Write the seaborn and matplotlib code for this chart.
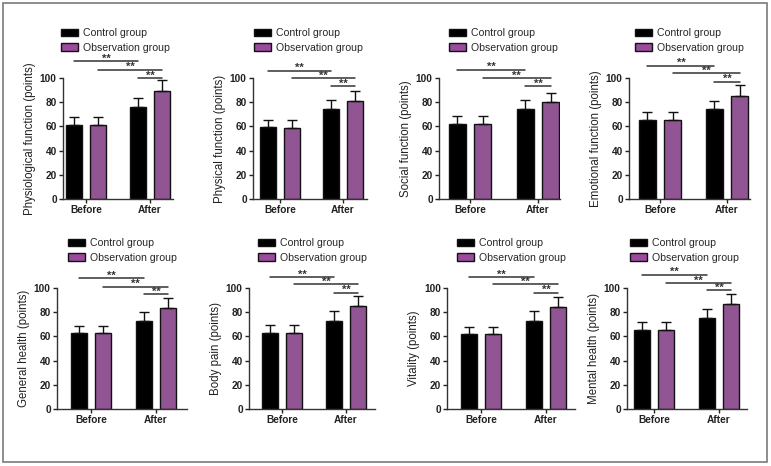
import matplotlib
matplotlib.use("Agg")
import matplotlib.pyplot as plt
from matplotlib.patches import Patch, Rectangle
import seaborn as sns
import pandas as pd

# ---------------- data ----------------
metrics = ["Physiological function (points)", "Physical function (points)",
           "Social function (points)", "Emotional function (points)",
           "General health (points)", "Body pain (points)",
           "Vitality (points)", "Mental health (points)"]
times = ["Before", "After"]
groups = ["Control group", "Observation group"]

ctrl_before = [61, 59.5, 62, 65.5, 62.5, 63, 62, 65]
obs_before = [61, 59, 62, 65.5, 62.5, 63, 62, 65]
ctrl_after = [76, 74, 74.5, 74, 73, 73, 72.7, 75]
obs_after = [89, 81, 80, 85, 83.7, 85, 84.3, 86.5]

ctrl_before_sd = [6.5, 6, 6.5, 6.5, 6.5, 6.4, 6, 7]
obs_before_sd = [6.5, 6, 6.5, 6.5, 6.5, 6.4, 6, 7]
ctrl_after_sd = [7.5, 7.5, 7, 7, 7, 8, 8, 7.4]
obs_after_sd = [9, 8.5, 8, 9, 8.3, 8.4, 8.3, 8.8]

sig_label = "**"

# ---------------- style ----------------
sns.set_style("ticks")
plt.rcParams["font.family"] = ["Liberation Sans", "DejaVu Sans"]
colors = ["#000000", "#9B4A9E"]

W, H = 771, 466
fig = plt.figure(figsize=(W / 100, H / 100), dpi=100)

# layout (pixels): left spine, tick0, tick1, right end
top_layout = [(63, 86, 150, 173), (253, 280, 343, 367), (439, 470, 538, 560), (629, 660, 727, 750)]
bot_layout = [(57, 91, 156, 187), (249, 282, 346, 375), (447, 481, 546, 575), (627, 654, 719, 747)]
legend_pos = [(61, 28), (254, 28), (449, 28), (635, 28), (68, 238), (258, 238), (457, 238), (630, 238)]
sig_heights = [(114, 107, 100), (106, 100, 93), (107, 100, 93), (110, 104, 97),
               (108, 101, 95), (109, 103, 96), (109, 103, 96), (111, 104, 98)]

for i in range(8):
    if i < 4:
        L, t0, t1, R = top_layout[i]
        T, B = 78, 199
    else:
        L, t0, t1, R = bot_layout[i - 4]
        T, B = 288, 409
    ax = fig.add_axes([L / W, 1 - B / H, (R - L) / W, (B - T) / H])

    df = pd.DataFrame({
        "time": times * 2,
        "group": [groups[0]] * 2 + [groups[1]] * 2,
        "value": [ctrl_before[i], ctrl_after[i], obs_before[i], obs_after[i]],
    })
    sd = {groups[0]: [ctrl_before_sd[i], ctrl_after_sd[i]],
          groups[1]: [obs_before_sd[i], obs_after_sd[i]]}

    sns.barplot(data=df, x="time", y="value", hue="group", order=times, hue_order=groups,
                palette=colors, errorbar=None, width=0.75, gap=0.33,
                edgecolor="#111111", linewidth=1.0, legend=False, ax=ax)

    # error bars (upper only) placed at bar centres
    centers = {}
    for gi, g in enumerate(groups):
        bars = ax.containers[gi]
        xs = [p.get_x() + p.get_width() / 2 for p in bars]
        ys = [p.get_height() for p in bars]
        centers[g] = xs
        ax.errorbar(xs, ys, yerr=[[0, 0], sd[g]], fmt="none", ecolor="#111111",
                    elinewidth=1.0, capsize=3.5, capthick=1.0, clip_on=False, zorder=1)

    ax.set_ylim(0, 100)
    ax.set_yticks([0, 20, 40, 60, 80, 100])
    ax.set_xlim((L - t0) / (t1 - t0), (R - t0) / (t1 - t0))
    ax.set_xlabel("")
    ax.set_ylabel(metrics[i], fontsize=8.3, labelpad=3, color="#222222")
    ax.tick_params(axis="both", length=3, width=1, pad=1.5, labelsize=7.3, colors="#222222")
    for lab in ax.get_xticklabels() + ax.get_yticklabels():
        lab.set_fontweight("bold")
    sns.despine(ax=ax)
    for s in ("left", "bottom"):
        ax.spines[s].set_linewidth(1.0)
        ax.spines[s].set_color("#333333")

    # significance brackets
    h1, h2, h3 = sig_heights[i]
    pairs = [(centers[groups[0]][0], centers[groups[0]][1], h1),
             (centers[groups[1]][0], centers[groups[1]][1], h2),
             (centers[groups[0]][1], centers[groups[1]][1], h3)]
    for xa, xb, hy in pairs:
        ax.plot([xa, xb], [hy, hy], color="#333333", lw=1.1, clip_on=False)
        ax.text((xa + xb) / 2, hy - 2.0, sig_label, ha="center", va="bottom",
                fontsize=8, fontweight="bold", color="#333333", clip_on=False)

    # legend
    lx, ly = legend_pos[i]
    handles = [Patch(facecolor=colors[0], edgecolor="#111111", label=groups[0]),
               Patch(facecolor=colors[1], edgecolor="#111111", label=groups[1])]
    ax.legend(handles=handles, loc="upper left", bbox_to_anchor=(lx / W, 1 - ly / H),
              bbox_transform=fig.transFigure, frameon=False, fontsize=7.6,
              handlelength=1.6, handleheight=0.7, handletextpad=0.45,
              labelspacing=0.45, borderpad=0, borderaxespad=0)

# figure frame
fig.patches.append(Rectangle((3 / W, 4 / H), 764 / W, 459 / H, transform=fig.transFigure,
                             fill=False, edgecolor="#7a7a7a", lw=1.2))

fig.savefig("out.png", dpi=100)
